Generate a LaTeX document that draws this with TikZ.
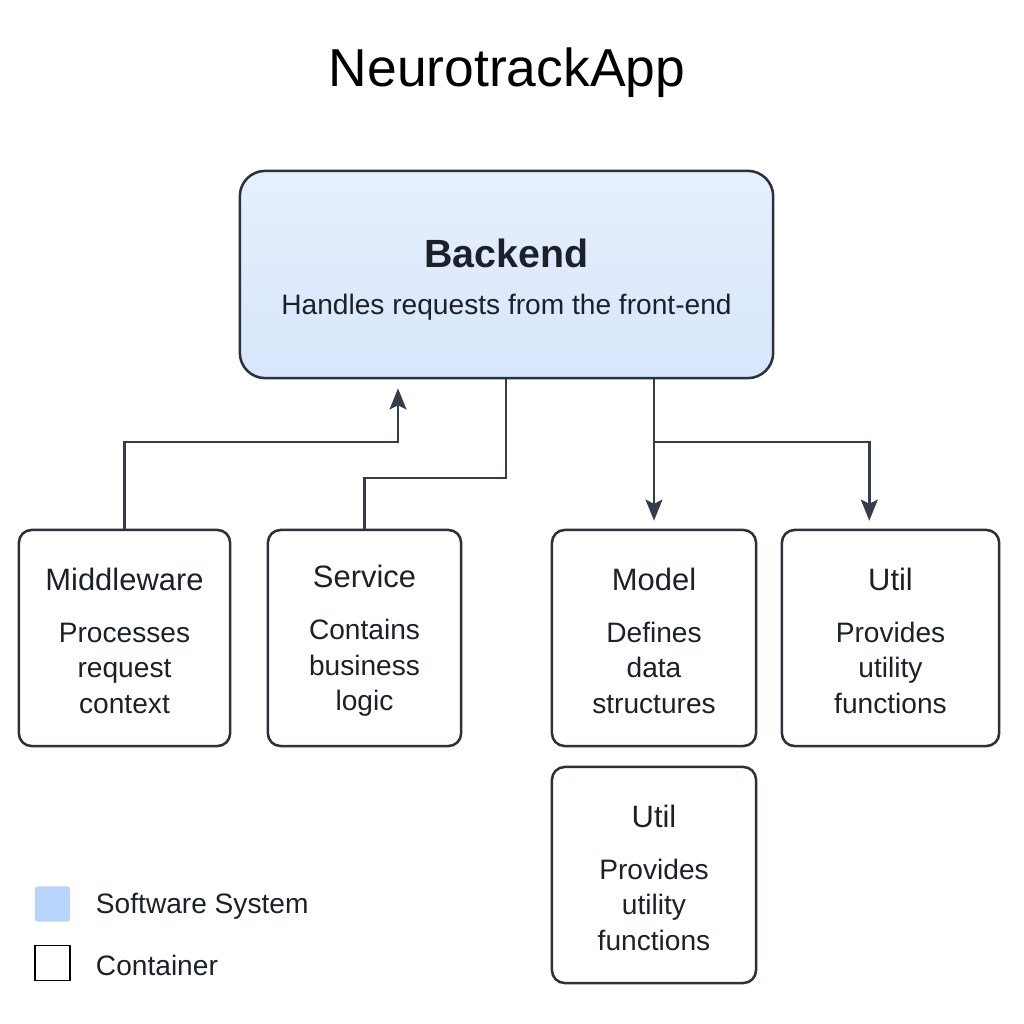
\documentclass[tikz,border=0pt]{standalone}
\usepackage{fontspec}
\setmainfont{Liberation Sans}
\usepackage{tikz}
\usetikzlibrary{positioning, arrows.meta}

\definecolor{edgegray}{HTML}{353C4B}
\definecolor{boxline}{HTML}{2B313D}
\definecolor{sysblue}{HTML}{B8D4FA}
\definecolor{backtop}{HTML}{E6F0FD}
\definecolor{backbot}{HTML}{D7E6FB}
\definecolor{textdark}{HTML}{1C2029}

\newcommand{\boxtitle}[1]{{\fontsize{22}{26}\selectfont\rule{0pt}{20pt}#1}\\[11.4pt]}

\begin{document}
\begin{tikzpicture}[
        x=0.025cm, y=-0.025cm,
        box/.style={rectangle, draw=boxline, line width=1.8pt, rounded corners=9pt, minimum height=5.4cm, align=center, text=textdark, font=\fontsize{20}{25.5}\selectfont},
        system/.style={box, rounded corners=18pt, top color=backtop, bottom color=backbot, minimum width=13.33cm, minimum height=5.18cm},
        arrow/.style={-{Stealth[length=15pt, width=12pt, inset=3pt]}, line width=1.8pt, draw=edgegray},
        link/.style={line width=1.8pt, draw=edgegray},
        key/.style={rectangle, minimum size=0.88cm, inner sep=0pt},
        keytext/.style={anchor=west, text=textdark, font=\fontsize{20}{24}\selectfont}
    ]
        \useasboundingbox (0,0) rectangle (1024,1024);

        % Nodes
        \node[font=\fontsize{38}{44}\selectfont] (title) at (507,73) {NeurotrackApp};

        \node[system] (backend) at (506.5,274.5) {{\fontsize{28}{32}\selectfont\bfseries\rule{0pt}{27pt}Backend}\\[8pt]Handles requests from the front-end};

        \node[box, minimum width=5.28cm] (mw) at (124.5,638) {\boxtitle{Middleware}Processes\\request\\context};
        \node[box, minimum width=4.83cm] (sv) at (364.5,638) {\boxtitle{Service}Contains\\business\\logic};
        \node[box, minimum width=5.1cm] (model) at (654,638) {\boxtitle{Model}Defines\\data\\structures};
        \node[box, minimum width=5.43cm] (util) at (890.5,638) {\boxtitle{Util}Provides\\utility\\functions};
        \node[box, minimum width=5.1cm] (util2) at (654,875) {\boxtitle{Util}Provides\\utility\\functions};

        % Legend
        \node[key, fill=sysblue, rounded corners=2pt] (keysys) at (52.5,904) {};
        \node[keytext] (keysystext) at (91,906) {Software System};
        \node[key, draw=black, line width=1.2pt] (keycon) at (52.5,963) {};
        \node[keytext] (keycontext) at (91,965) {Container};

        % Connections
        \coordinate (mwbend) at (398,442);
        \coordinate (svbend) at (506,478);
        \coordinate (split) at (654,442);
        \draw[arrow, shorten >=6.4pt] (mw.north) |- (mwbend) -- (mwbend |- backend.south);
        \draw[link] (sv.north) |- (svbend) -- (svbend |- backend.south);
        \draw[arrow, shorten >=5.7pt] (model.north |- backend.south) -- (model.north);
        \draw[arrow, shorten >=5.7pt] (split) -| ([xshift=-0.53cm]util.north);

    \end{tikzpicture}
\end{document}
